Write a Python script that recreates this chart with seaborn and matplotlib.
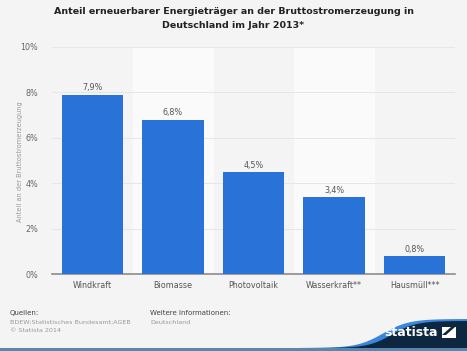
import numpy as np
import pandas as pd
import matplotlib.pyplot as plt
import seaborn as sns
from matplotlib.patches import Polygon, Rectangle

# Data
categories = ["Windkraft", "Biomasse", "Photovoltaik", "Wasserkraft**", "Hausmüll***"]
values = [7.9, 6.8, 4.5, 3.4, 0.8]
labels = ["7,9%", "6,8%", "4,5%", "3,4%", "0,8%"]
yticks = [0, 2, 4, 6, 8, 10]

df = pd.DataFrame({"Energieträger": categories, "Anteil": values})

sns.set_theme(style="white")
plt.rcParams["font.family"] = ["DejaVu Sans"]

W, H = 467, 351
bg = "#f4f4f4"
fig = plt.figure(figsize=(4.67, 3.51), dpi=100, facecolor=bg)
ax = fig.add_axes([52 / W, 1 - 274 / H, 403 / W, 227 / H])
ax.set_facecolor(bg)

# alternating column bands
for i in range(len(categories)):
    if i % 2 == 1:
        ax.axvspan(i - 0.5, i + 0.5, color="#fafafa", zorder=0)

sns.barplot(data=df, x="Energieträger", y="Anteil", color="#2872d8",
            width=0.76, saturation=1, linewidth=0, ax=ax, zorder=3)

for i, (v, lab) in enumerate(zip(values, labels)):
    ax.text(i, v + 0.1, lab, ha="center", va="bottom", fontsize=5.8, color="#555555")

ax.set_ylim(0, 10)
ax.set_xlim(-0.5, len(categories) - 0.5)
ax.set_yticks(yticks)
ax.set_yticklabels([f"{t}%" for t in yticks], fontsize=5.8, color="#666666")
ax.tick_params(axis="x", labelsize=5.8, colors="#555555", length=0, pad=5)
ax.tick_params(axis="y", length=0, pad=10)
ax.yaxis.grid(True, color="#e6e6e6", linewidth=0.7, zorder=1)
ax.set_axisbelow(True)
for s in ["top", "right", "left"]:
    ax.spines[s].set_visible(False)
ax.spines["bottom"].set_color("#8c8c8c")
ax.spines["bottom"].set_linewidth(1.2)
ax.set_xlabel("")
ax.set_ylabel("")
fig.text(20 / W, 1 - 162 / H, "Anteil an der Bruttostromerzeugung", rotation=90,
         fontsize=4.8, color="#999999", ha="center", va="center")

fig.text(0.5, 1 - 7 / H, "Anteil erneuerbarer Energieträger an der Bruttostromerzeugung in\nDeutschland im Jahr 2013*",
         ha="center", va="top", fontsize=6.8, fontweight="bold", color="#222222", linespacing=1.7)

# footer
fig.text(10 / W, 1 - 313 / H, "Quellen:", fontsize=5, color="#444444", va="center")
fig.text(10 / W, 1 - 322 / H, "BDEW;Statistisches Bundesamt;AGEB", fontsize=4.6, color="#999999", va="center")
fig.text(10 / W, 1 - 331 / H, "© Statista 2014", fontsize=4.6, color="#999999", va="center")
fig.text(150 / W, 1 - 313 / H, "Weitere Informationen:", fontsize=5, color="#444444", va="center")
fig.text(150 / W, 1 - 322 / H, "Deutschland", fontsize=4.6, color="#999999", va="center")

# statista logo wave
xs = np.linspace(300, W, 80)
curve = 348 - (348 - 319) / (1 + np.exp(-(xs - 383) / 13))
blue_pts = [(x / W, 1 - y / H) for x, y in zip(xs, curve)]
blue_pts += [(1, 0), (300 / W, 0)]
fig.patches.append(Polygon(blue_pts, closed=True, transform=fig.transFigure,
                           facecolor="#3a86dc", edgecolor="none", zorder=1))
dark_curve = 348 - (348 - 321) / (1 + np.exp(-(xs - 392) / 12))
dark_pts = [(x / W, 1 - y / H) for x, y in zip(xs, dark_curve)]
dark_pts += [(1, 0), (300 / W, 0)]
fig.patches.append(Polygon(dark_pts, closed=True, transform=fig.transFigure,
                           facecolor="#0e2740", edgecolor="none", zorder=2))
fig.patches.append(Rectangle((0, 0), 1, 3.5 / H, transform=fig.transFigure,
                             facecolor="#5a86ad", edgecolor="none", zorder=3))
fig.text(438 / W, 1 - 333 / H, "statista", fontsize=9, fontweight="bold",
         color="white", va="center", ha="right", zorder=4, family="Liberation Sans Narrow")
fig.patches.append(Rectangle((442 / W, 1 - 338 / H), 14 / W, 11 / H,
                             transform=fig.transFigure, facecolor="white", edgecolor="none", zorder=4))
fig.patches.append(Polygon([(442 / W, 1 - 335 / H), (451 / W, 1 - 327 / H),
                            (455 / W, 1 - 327 / H), (446 / W, 1 - 335 / H)],
                           closed=True, transform=fig.transFigure,
                           facecolor="#0e2740", edgecolor="none", zorder=5))

fig.savefig("out.png", dpi=100, facecolor=bg)
